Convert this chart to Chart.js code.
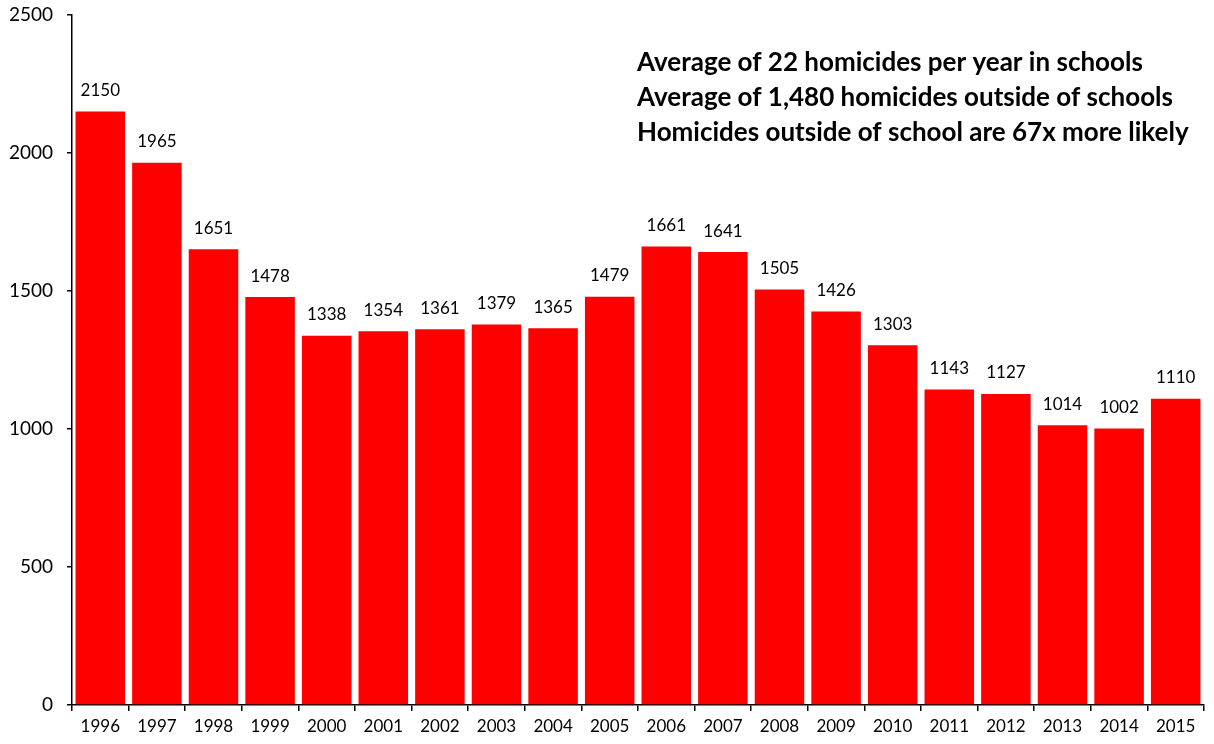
<!DOCTYPE html>
<html>
<head>
<meta charset="utf-8">
<script src="https://cdn.jsdelivr.net/npm/chart.js@4/dist/chart.umd.min.js"></script>
<style>
  html, body { margin: 0; padding: 0; background: #fff; }
  #wrap { width: 1214px; height: 744px; }
</style>
</head>
<body>
<div id="wrap"><canvas id="homChart" width="1214" height="744"></canvas></div>
<script>
var years = ["1996", "1997", "1998", "1999", "2000", "2001", "2002", "2003", "2004", "2005",
             "2006", "2007", "2008", "2009", "2010", "2011", "2012", "2013", "2014", "2015"];
var homicides = [2150, 1965, 1651, 1478, 1338, 1354, 1361, 1379, 1365, 1479,
                 1661, 1641, 1505, 1426, 1303, 1143, 1127, 1014, 1002, 1110];
var notes = [
    "Average of 22 homicides per year in schools",
    "Average of 1,480 homicides outside of schools",
    "Homicides outside of school are 67x more likely"
];

var FONT = "Lato, 'Open Sans', sans-serif";

// value labels above each bar
var barLabels = {
    id: 'barLabels',
    afterDatasetsDraw: function(chart) {
        var ctx = chart.ctx;
        var meta = chart.getDatasetMeta(0);
        ctx.save();
        ctx.font = "17px " + FONT;
        ctx.fillStyle = "#000";
        ctx.textAlign = "center";
        ctx.textBaseline = "middle";
        meta.data.forEach(function(bar, i) {
            ctx.fillText(homicides[i], bar.x, bar.y - 21);
        });
        ctx.restore();
    }
};

// text block in the top right
var noteText = {
    id: 'noteText',
    afterDraw: function(chart) {
        var ctx = chart.ctx;
        ctx.save();
        ctx.font = "bold 26px " + FONT;
        ctx.fillStyle = "#000";
        ctx.textAlign = "left";
        ctx.textBaseline = "middle";
        for (var i = 0; i < notes.length; i++) {
            ctx.fillText(notes[i], 637, 63 + i * 35);
        }
        ctx.restore();
    }
};

var options = {
    type: 'bar',
    data: {
        labels: years,
        datasets: [{
            label: 'Homicides outside of schools',
            data: homicides,
            backgroundColor: "#ff0000",
            borderWidth: 0,
            barPercentage: 0.875,
            categoryPercentage: 1.0
        }]
    },
    options: {
        responsive: false,
        animation: false,
        layout: { padding: { top: 15, right: 10, left: 0, bottom: 0 } },
        plugins: {
            legend: { display: false },
            tooltip: { enabled: false }
        },
        scales: {
            x: {
                offset: true,
                grid: {
                    display: true,
                    drawOnChartArea: false,
                    offset: true,
                    tickLength: 6,
                    color: "#000",
                    lineWidth: 1.5
                },
                border: { color: "#000", width: 1.5 },
                ticks: {
                    color: "#000",
                    font: { family: FONT, size: 17 },
                    padding: 5,
                    maxRotation: 0,
                    autoSkip: false
                },
                afterFit: function(scale) { scale.height = 39; }
            },
            y: {
                min: 0,
                max: 2500,
                grid: {
                    display: true,
                    drawOnChartArea: false,
                    tickLength: 5,
                    color: "#000",
                    lineWidth: 1.5
                },
                border: { color: "#000", width: 1.5 },
                ticks: {
                    stepSize: 500,
                    color: "#000",
                    font: { family: FONT, size: 19 },
                    padding: 14,
                    callback: function(v) { return String(v); }
                },
                afterFit: function(scale) {
                    scale.width = 72;
                    scale.paddingTop = 0;
                    scale.paddingBottom = 0;
                }
            }
        }
    },
    plugins: [barLabels, noteText]
};

var homChart = new Chart(document.getElementById("homChart"), options);
</script>
</body>
</html>
